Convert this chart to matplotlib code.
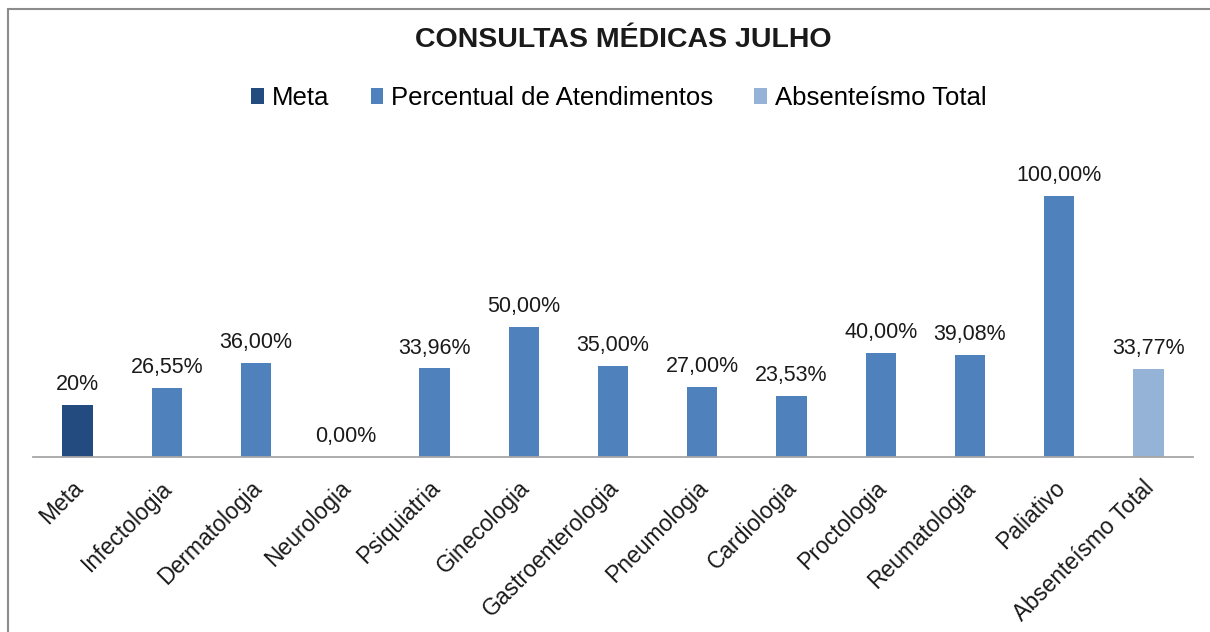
import matplotlib
matplotlib.use("Agg")
import matplotlib.pyplot as plt
from matplotlib.patches import Rectangle, Patch
from matplotlib.transforms import ScaledTranslation

categories = ["Meta", "Infectologia", "Dermatologia", "Neurologia", "Psiquiatria",
              "Ginecologia", "Gastroenterologia", "Pneumologia", "Cardiologia",
              "Proctologia", "Reumatologia", "Paliativo", "Absenteísmo Total"]
values = [20, 26.55, 36.00, 0.00, 33.96, 50.00, 35.00, 27.00, 23.53, 40.00, 39.08, 100.00, 33.77]
labels = ["20%", "26,55%", "36,00%", "0,00%", "33,96%", "50,00%", "35,00%", "27,00%",
          "23,53%", "40,00%", "39,08%", "100,00%", "33,77%"]
series_names = ["Meta", "Percentual de Atendimentos", "Absenteísmo Total"]
series_colors = ["#234B7F", "#4F81BD", "#95B3D7"]
bar_series = [0] + [1] * 11 + [2]

plt.rcParams['font.family'] = ['Liberation Sans', 'DejaVu Sans']

W, H = 1210, 632
fig = plt.figure(figsize=(W / 100, H / 100), dpi=100)

# outer border
fig.patches.append(Rectangle((8 / W, -0.05), 1.2, (H - 9) / H + 0.05, transform=fig.transFigure,
                             fill=False, edgecolor="#8C8C8C", linewidth=1.5))

ax_left, ax_right = 33, 1193
ax_bottom, ax_top = 457, 150
ax = fig.add_axes([ax_left / W, 1 - ax_bottom / H, (ax_right - ax_left) / W, (ax_bottom - ax_top) / H])
ax.patch.set_alpha(0)

x = list(range(len(categories)))
colors = [series_colors[s] for s in bar_series]
bars = ax.bar(x, values, width=0.34, color=colors, zorder=2)
ax.set_xlim(-0.5, len(categories) - 0.5)
ax.set_ylim(0, (ax_bottom - ax_top) / 2.61)

for b, lab in zip(bars, labels):
    ax.annotate(lab, (b.get_x() + b.get_width() / 2, b.get_height()), xytext=(0, 7),
                textcoords="offset points", ha="center", va="bottom", fontsize=15.5, color="#1A1A1A")

for s in ["top", "right", "left"]:
    ax.spines[s].set_visible(False)
ax.spines["bottom"].set_color("#A6A6A6")
ax.spines["bottom"].set_linewidth(1.3)
ax.set_yticks([])
ax.set_xticks(x)
ax.set_xticklabels(categories, rotation=45, ha="right", rotation_mode="anchor",
                   fontsize=16.5, color="#1A1A1A")
ax.tick_params(axis="x", length=0, pad=14)
shift = ScaledTranslation(-6 / 100, 0, fig.dpi_scale_trans)
for t in ax.get_xticklabels():
    t.set_transform(t.get_transform() + shift)

fig.text(623 / W, 1 - 40 / H, "CONSULTAS MÉDICAS JULHO", ha="center", va="center",
         fontsize=20.5, fontweight="bold", color="#1A1A1A")

handles = [Patch(facecolor=c, edgecolor="none") for c in series_colors]
fig.legend(handles, series_names, loc="center", bbox_to_anchor=(619 / W, 1 - 98 / H), ncol=3,
           frameon=False, fontsize=18.5, handlelength=0.5, handleheight=0.55, handletextpad=0.3,
           columnspacing=1.6)

fig.savefig("out.png", dpi=100, facecolor="white")
